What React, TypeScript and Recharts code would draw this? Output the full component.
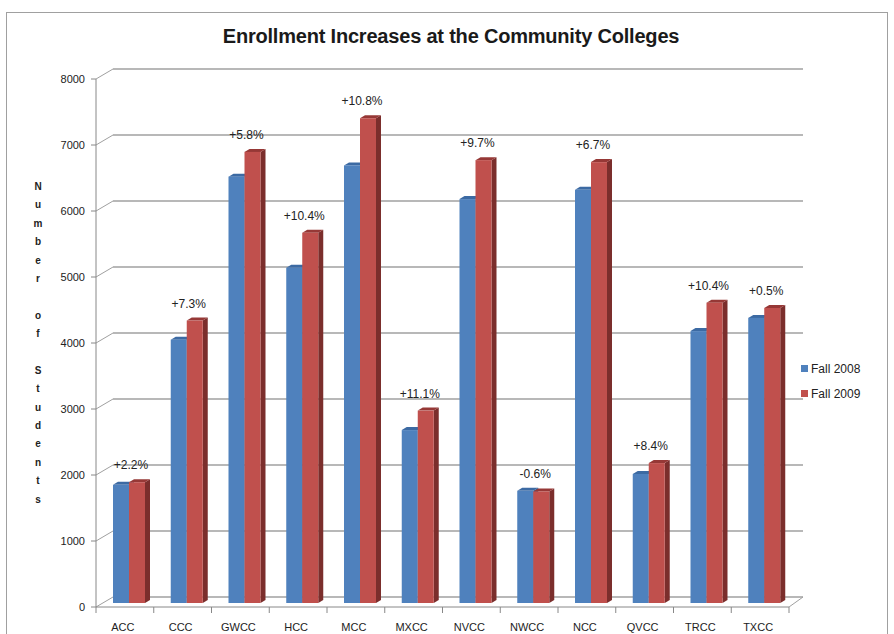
import React from "react";
import { BarChart, Bar, XAxis, YAxis, CartesianGrid, LabelList } from "recharts";

// enrollment per college
const colleges = ["ACC", "CCC", "GWCC", "HCC", "MCC", "MXCC", "NVCC", "NWCC", "NCC", "QVCC", "TRCC", "TXCC"];
const fall2008 = [1790, 3990, 6460, 5080, 6630, 2620, 6120, 1700, 6260, 1955, 4120, 4320];
const fall2009 = [1830, 4280, 6835, 5610, 7345, 2915, 6710, 1690, 6680, 2120, 4550, 4470];
const changeLabels = ["+2.2%", "+7.3%", "+5.8%", "+10.4%", "+10.8%", "+11.1%", "+9.7%", "-0.6%", "+6.7%", "+8.4%", "+10.4%", "+0.5%"];
const seriesNames = ["Fall 2008", "Fall 2009"];
const yTicks = [0, 1000, 2000, 3000, 4000, 5000, 6000, 7000, 8000];

const data = colleges.map((college, i) => ({
  college,
  fall2008: fall2008[i],
  fall2009: fall2009[i],
  change: changeLabels[i],
}));

const W = 894;
const H = 634;
const PLOT_LEFT = 96;
const PLOT_RIGHT = 789;
const PLOT_BOTTOM = 607;
const BAND = (PLOT_RIGHT - PLOT_LEFT) / colleges.length;
const FONT = "'Liberation Sans', Arial, sans-serif";

// fake 3D offsets (Excel-style)
const SHIFT_X = 4;
const SHIFT_Y = -4;
const DEPTH_X = 5;
const DEPTH_Y = 3;

const make3DBar = (front: string, top: string, side: string) => (props: any) => {
  const { x, y, width, height } = props;
  if (width == null || height == null || height <= 0) return <g />;
  const bx = x + SHIFT_X;
  const by = y + SHIFT_Y;
  return (
    <g>
      <polygon
        points={`${bx + width},${by} ${bx + width + DEPTH_X},${by - DEPTH_Y} ${bx + width + DEPTH_X},${by + height - DEPTH_Y} ${bx + width},${by + height}`}
        fill={side}
      />
      <polygon
        points={`${bx},${by} ${bx + DEPTH_X},${by - DEPTH_Y} ${bx + width + DEPTH_X},${by - DEPTH_Y} ${bx + width},${by}`}
        fill={top}
      />
      <rect x={bx} y={by} width={width} height={height} fill={front} />
    </g>
  );
};

const gridLine = (props: any) => {
  const { x1, x2, y1, index } = props;
  const isFloor = Math.abs(y1 - PLOT_BOTTOM) < 1;
  return (
    <g key={`grid-${index}`}>
      <line x1={x1} y1={y1} x2={x1 + 17} y2={y1 - 10} stroke="#a0a0a0" strokeWidth={1} />
      <line x1={x1 + 17} y1={y1 - 10} x2={x2 + 14} y2={y1 - 10} stroke="#a0a0a0" strokeWidth={1.3} />
      {isFloor && <line x1={x2} y1={y1} x2={x2 + 14} y2={y1 - 10} stroke="#a0a0a0" strokeWidth={1} />}
    </g>
  );
};

const XTick = (props: any) => {
  const { x, payload, index, visibleTicksCount } = props;
  const half = BAND / 2;
  return (
    <g>
      <line x1={x - half} y1={PLOT_BOTTOM} x2={x - half} y2={PLOT_BOTTOM + 6} stroke="#888" />
      {index === visibleTicksCount - 1 && (
        <line x1={x + half} y1={PLOT_BOTTOM} x2={x + half} y2={PLOT_BOTTOM + 6} stroke="#888" />
      )}
      <text
        x={x - 2}
        y={PLOT_BOTTOM + 20}
        textAnchor="middle"
        dominantBaseline="central"
        fontSize={11}
        fontFamily={FONT}
        fill="#222"
      >
        {payload.value}
      </text>
    </g>
  );
};

const ChangeLabel = (props: any) => {
  const { x, y, value } = props;
  return (
    <text
      x={x + SHIFT_X + 2}
      y={y + SHIFT_Y - 17}
      textAnchor="middle"
      dominantBaseline="central"
      fontSize={12}
      fontFamily={FONT}
      fill="#222"
    >
      {value}
    </text>
  );
};

const yTitle = "Number of Students".split("");

const App: React.FC = () => {
  return (
    <div style={{ position: "absolute", left: 0, top: 0, width: W, height: H, background: "#fff", overflow: "hidden" }}>
      {/* chart frame */}
      <div
        style={{
          position: "absolute",
          left: 6,
          top: 12,
          width: 882,
          height: 640,
          border: "1.5px solid #a0a0a0",
          boxSizing: "border-box",
        }}
      />
      <div
        style={{
          position: "absolute",
          left: 0,
          top: 25,
          width: 902,
          textAlign: "center",
          fontFamily: FONT,
          fontWeight: "bold",
          fontSize: 20,
          letterSpacing: -0.2,
          color: "#1a1a1a",
        }}
      >
        Enrollment Increases at the Community Colleges
      </div>
      {/* vertical y-axis title */}
      <div
        style={{
          position: "absolute",
          left: 30,
          top: 178,
          width: 16,
          textAlign: "center",
          fontFamily: FONT,
          fontWeight: "bold",
          fontSize: 10,
          lineHeight: "18.4px",
          color: "#222",
        }}
      >
        {yTitle.map((ch, i) => (
          <div key={i} style={{ height: 18.4 }}>
            {ch === " " ? "\u00a0" : ch}
          </div>
        ))}
      </div>
      {/* legend */}
      <div style={{ position: "absolute", left: 801, top: 356, fontFamily: FONT, fontSize: 12, color: "#222" }}>
        {seriesNames.map((name, i) => (
          <div key={name} style={{ display: "flex", alignItems: "center", height: 25 }}>
            <span
              style={{
                display: "inline-block",
                width: 7,
                height: 7,
                background: i === 0 ? "#4F81BD" : "#C0504D",
                marginRight: 3,
              }}
            />
            {name}
          </div>
        ))}
      </div>
      <div style={{ position: "absolute", left: 0, top: 0 }}>
        <BarChart
          width={W}
          height={H}
          data={data}
          margin={{ top: 79, right: W - PLOT_RIGHT, left: 0, bottom: 0 }}
          barGap={0}
          barSize={16}
        >
          <CartesianGrid vertical={false} horizontal={gridLine} />
          <XAxis
            dataKey="college"
            height={H - PLOT_BOTTOM}
            axisLine={{ stroke: "#888" }}
            tickLine={false}
            tick={<XTick />}
            interval={0}
          />
          <YAxis
            width={PLOT_LEFT}
            domain={[0, 8000]}
            ticks={yTicks}
            interval={0}
            axisLine={{ stroke: "#888" }}
            tickLine={{ stroke: "#888" }}
            tickSize={5}
            tickMargin={6}
            tick={{ fontSize: 11, fontFamily: FONT, fill: "#222" }}
          />
          <Bar
            dataKey="fall2008"
            name={seriesNames[0]}
            isAnimationActive={false}
            shape={make3DBar("#4F81BD", "#3C6AA3", "#37608F")}
          />
          <Bar
            dataKey="fall2009"
            name={seriesNames[1]}
            isAnimationActive={false}
            shape={make3DBar("#C0504D", "#963836", "#7B2E2C")}
          >
            <LabelList dataKey="change" content={<ChangeLabel />} />
          </Bar>
        </BarChart>
      </div>
    </div>
  );
};

export default App;
